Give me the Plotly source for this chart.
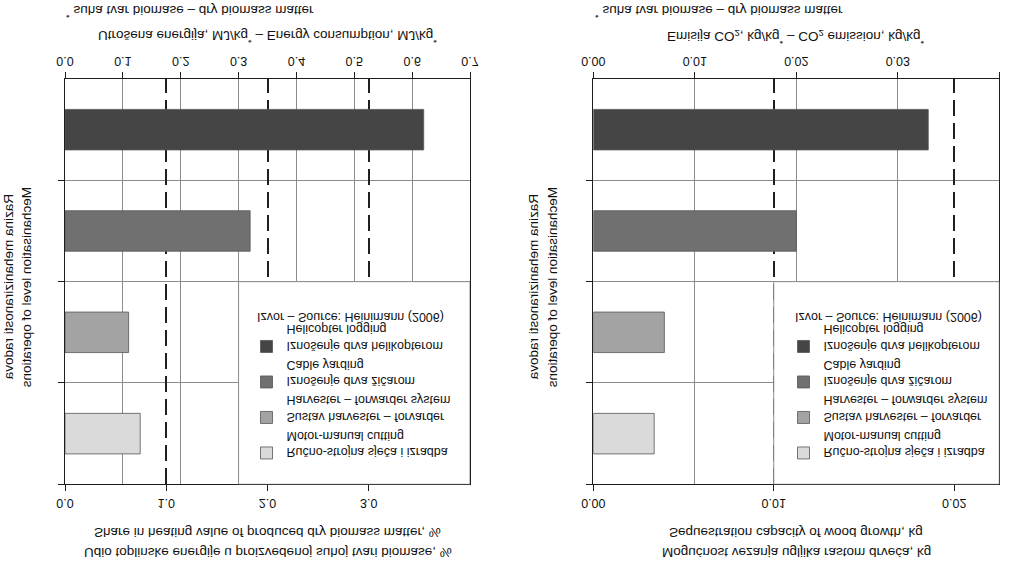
import plotly.graph_objects as go

# ---- data ----
categories = ["Helicopter logging", "Cable yarding", "Harvester – forwarder system", "Motor-manual cutting"]
legend_labels = [
    "Iznošenje drva helikopterom<br>Helicopter logging",
    "Iznošenje drva žičarom<br>Cable yarding",
    "Sustav harvester – forvarder<br>Harvester – forwarder system",
    "Ručno-strojna sječa i izradba<br>Motor-manual cutting",
]
energy_mj_per_kg = [0.62, 0.32, 0.11, 0.13]
co2_kg_per_kg = [0.033, 0.020, 0.007, 0.006]
bar_colors = ["#454545", "#707070", "#a3a3a3", "#dadada"]

energy_ticks = [0.0, 0.1, 0.2, 0.3, 0.4, 0.5, 0.6, 0.7]
share_ticks = [0.0, 1.0, 2.0, 3.0]
co2_ticks = [0.00, 0.01, 0.02, 0.03, 0.04]
seq_ticks = [0.00, 0.01, 0.02]

FONT = "Arial, Liberation Sans, sans-serif"
W, H = 1011, 561
GRID = "#8c8c8c"
LINE = "#1e1e1e"

fig = go.Figure()

for i, cat in enumerate(categories):
    fig.add_trace(go.Bar(
        x=[energy_mj_per_kg[i]], y=[cat], orientation="h", width=0.4,
        marker=dict(color=bar_colors[i], line=dict(color="#555555", width=0.8)),
        name=legend_labels[i], legend="legend", xaxis="x", yaxis="y",
        hoverinfo="skip",
    ))
for i, cat in enumerate(categories):
    fig.add_trace(go.Bar(
        x=[co2_kg_per_kg[i]], y=[cat], orientation="h", width=0.4,
        marker=dict(color=bar_colors[i], line=dict(color="#555555", width=0.8)),
        name=legend_labels[i], legend="legend2", xaxis="x3", yaxis="y2",
        hoverinfo="skip",
    ))
# empty traces so the secondary axes are bound to a subplot
fig.add_trace(go.Scatter(x=[], y=[], xaxis="x2", yaxis="y", showlegend=False))
fig.add_trace(go.Scatter(x=[], y=[], xaxis="x4", yaxis="y2", showlegend=False))

ydom = [79 / H, 484.3 / H]
L1 = [65 / W, 470 / W]
L2 = [593.3 / W, 999.3 / W]

tickfont = dict(family=FONT, size=12.5, color="#111")

def prim(dom, rng, ticks, fmt, anchor):
    return dict(domain=dom, range=rng, tickvals=ticks, tickformat=fmt, anchor=anchor,
                side="bottom", showline=True, linecolor=LINE, linewidth=1.3,
                ticks="outside", ticklen=6, tickcolor=LINE, tickwidth=1.2,
                showgrid=True, gridcolor=GRID, gridwidth=1, zeroline=False,
                tickfont=tickfont, fixedrange=True, automargin=False)

def sec(over, rng, ticks, fmt, anchor):
    return dict(overlaying=over, range=rng, tickvals=ticks, tickformat=fmt, anchor=anchor,
                side="top", showline=True, linecolor=LINE, linewidth=1.3,
                ticks="outside", ticklen=6, tickcolor=LINE, tickwidth=1.2,
                ticklabelstandoff=3,
                showgrid=True, gridcolor="#202020", gridwidth=1.8, griddash="16px,7px",
                zeroline=False, tickfont=tickfont, fixedrange=True, automargin=False)

def yax(anchor):
    return dict(domain=ydom, anchor=anchor, type="category", categoryorder="array",
                categoryarray=categories, range=[-0.5, 3.5], tickson="boundaries",
                ticks="outside", ticklen=6, tickcolor=LINE, tickwidth=1.2,
                showticklabels=False, showline=True, mirror=True, linecolor=LINE, linewidth=1.3,
                showgrid=True, gridcolor=GRID, gridwidth=1, zeroline=False, fixedrange=True,
                automargin=False)

legend_common = dict(yanchor="top", xanchor="left", bgcolor="rgba(0,0,0,0)", borderwidth=0,
                     valign="top", traceorder="reversed", tracegroupgap=0,
                     font=dict(family=FONT, size=12.5, color="#111"))

fig.update_layout(
    width=W, height=H, margin=dict(l=0, r=0, t=0, b=0, autoexpand=False),
    paper_bgcolor="white", plot_bgcolor="white",
    barmode="overlay", showlegend=True,
    font=dict(family=FONT, size=13, color="#111"),
    xaxis=prim(L1, [0, 0.7], energy_ticks, ".1f", "y"),
    xaxis2=sec("x", [0, 4.0], share_ticks, ".1f", "y"),
    xaxis3=prim(L2, [0, 0.04], co2_ticks, ".2f", "y2"),
    xaxis4=sec("x3", [0, 0.0225], seq_ticks, ".2f", "y2"),
    yaxis=yax("x"),
    yaxis2=yax("x3"),
    legend=dict(x=246.5 / W, y=0.8335, **legend_common),
    legend2=dict(x=783.5 / W, y=0.8335, **legend_common),
)

# legend boxes (white panel with grey border), edges on the grid lines
fig.add_shape(type="rect", xref="x", yref="y", x0=0.3, x1=0.7, y0=1.5, y1=3.5,
              fillcolor="white", line=dict(color=GRID, width=1), layer="above")
fig.add_shape(type="rect", xref="x4", yref="y2", x0=0.01, x1=0.0225, y0=1.5, y1=3.5,
              fillcolor="white", line=dict(color=GRID, width=1), layer="above")

def ann(text, x, y, size=13.5, xanchor="center", angle=0):
    fig.add_annotation(text=text, x=x / W, y=y, xref="paper", yref="paper",
                       xanchor=xanchor, yanchor="middle", showarrow=False, textangle=angle,
                       font=dict(family=FONT, size=size, color="#111"))

# source notes inside legends
ann("Izvor – Source: Heinimann (2006)", 255, 317 / H, size=12.5, xanchor="left")
ann("Izvor – Source: Heinimann (2006)", 793, 317 / H, size=12.5, xanchor="left")

# primary axis titles + footnotes
ann("Utrošena energija, MJ/kg<sup>*</sup> – Energy consumption, MJ/kg<sup>*</sup>", 267.5, 37.5 / H)
ann("<sup>*</sup> suha tvar biomase – dry biomass matter", 64, 12 / H, xanchor="left")
ann("Emisija CO<sub>2</sub>, kg/kg<sup>*</sup> – CO<sub>2</sub> emission, kg/kg<sup>*</sup>", 796.3, 37.5 / H)
ann("<sup>*</sup> suha tvar biomase – dry biomass matter", 593, 12 / H, xanchor="left")

# secondary axis titles
ann("Share in heating value of produced dry biomass matter, %", 267.5, 533 / H)
ann("Udio toplinske energije u proizvedenoj suhoj tvari biomase, %", 267.5, 552 / H)
ann("Sequestration capacity of wood growth, kg", 796.3, 533 / H)
ann("Mogućnost vezanja ugljika rastom drveća, kg", 796.3, 552 / H)

# y-axis titles
ann("Razina mehaniziranosti radova", 533, 287 / H, angle=-90)
ann("Mechanisation level of operations", 552, 287 / H, angle=-90)
ann("Razina mehaniziranosti radova", 8, 287 / H, angle=-90)
ann("Mechanisation level of operations", 26, 287 / H, angle=-90)

post = ("var gd=document.getElementById('{plot_id}');"
        "gd.style.transform='scaleY(-1)';"
        "document.body.style.margin='0px';")
fig.write_html("out.html", post_script=post, config={"displayModeBar": False})
